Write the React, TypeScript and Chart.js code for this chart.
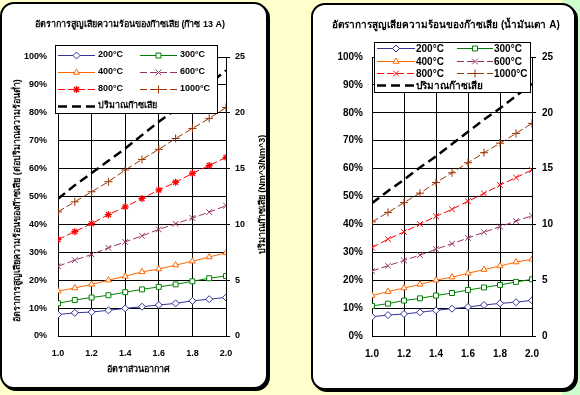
import React, { useEffect, useRef } from "react";
import { Chart, registerables } from "chart.js";
import { drawPoint } from "chart.js/helpers";

Chart.register(...registerables);

// ---------- data ----------
const airRatio = [1.0, 1.1, 1.2, 1.3, 1.4, 1.5, 1.6, 1.7, 1.8, 1.9, 2.0];
const seriesLabels = ["200°C", "300°C", "400°C", "600°C", "800°C", "1000°C"];
const gasLabel = "ปริมาณก๊าซเสีย";

const titleGas = "อัตราการสูญเสียความร้อนของก๊าซเสีย (ก๊าซ 13 A)";
const titleOil = "อัตราการสูญเสียความร้อนของก๊าซเสีย (น้ำมันเตา A)";
const yTitle = "อัตราการสูญเสียความร้อนของก๊าซเสีย (ต่อปริมาณความร้อนต่ำ)";
const y1Title = "ปริมาณก๊าซเสีย (Nm^3/Nm^3)";
const xTitle = "อัตราส่วนอากาศ";

// Gas 13A (percent)
const gas200 = [7.7, 8.3, 8.6, 9.2, 9.9, 10.5, 11.1, 11.7, 12.6, 13.2, 13.8];
const gas300 = [11.7, 12.9, 13.8, 14.6, 15.7, 16.7, 17.6, 18.5, 19.6, 20.7, 21.5];
const gas400 = [16.1, 17.2, 18.5, 20.0, 21.4, 23.0, 24.0, 25.4, 26.8, 28.3, 29.8];
const gas600 = [25.0, 27.2, 29.2, 31.6, 33.7, 35.9, 38.2, 40.2, 42.3, 44.4, 46.7];
const gas800 = [34.6, 37.4, 40.3, 43.5, 46.3, 49.3, 52.3, 55.1, 58.3, 61.1, 64.0];
const gas1000 = [44.5, 48.1, 51.7, 55.3, 59.5, 63.3, 66.9, 70.8, 74.4, 78.0, 81.9];
const gasVolume = [12.3, 13.5, 14.6, 15.7, 16.8, 18.0, 19.2, 20.3, 21.4, 22.6, 23.8];

// Heavy oil A (percent)
const oil200 = [6.9, 7.5, 7.9, 8.5, 9.2, 9.8, 10.4, 11.1, 11.7, 12.1, 12.8];
const oil300 = [10.8, 11.6, 12.7, 13.5, 14.5, 15.4, 16.5, 17.4, 18.3, 19.4, 20.3];
const oil400 = [14.5, 15.9, 17.2, 18.5, 20.0, 21.1, 22.5, 23.8, 25.1, 26.5, 27.5];
const oil600 = [23.3, 25.2, 27.1, 29.0, 31.1, 33.1, 35.1, 37.2, 39.2, 41.2, 43.1];
const oil800 = [31.7, 34.7, 37.3, 40.1, 42.9, 45.4, 48.3, 51.1, 54.1, 56.8, 59.5];
const oil1000 = [40.9, 44.3, 47.8, 51.2, 55.0, 58.5, 62.1, 65.7, 69.1, 72.6, 76.2];
const oilVolume = [11.9, 13.0, 14.0, 15.1, 16.1, 17.2, 18.3, 19.4, 20.4, 21.5, 22.6];

// ---------- styles ----------
const FAMILY = "Tahoma, 'Liberation Sans', Arial, 'DejaVu Sans', sans-serif";
const colors = ["#333399", "#008000", "#FF6600", "#993366", "#FF0000", "#993300"];
const dashed = [false, false, false, true, true, true];

type PanelCfg = {
  series: number[][];
  volume: number[];
  title: string;
  titleX: number;
  left: number;
  right: number;
  font: number;
  styles: string[];
  yPad: number;
  y1Pad: number;
  axisTitles: boolean;
  legend: {
    x: number; y: number; w: number; h: number;
    rows: number[];
    c1: [number, number, number];
    c2: [number, number, number];
    textDy: number;
  };
};

const TOP = 57;
const BOTTOM = 336;
const W = 290;
const H = 395;

function makeChart(canvas: HTMLCanvasElement, p: PanelCfg) {
  const pts = (arr: number[]) => airRatio.map((x, i) => ({ x, y: arr[i] }));
  const datasets: any[] = p.series.map((s, i) => {
    const style = p.styles[i];
    const isCross = style === "cross" || style === "crossRot";
    return {
      label: seriesLabels[i],
      data: pts(s),
      yAxisID: "y",
      borderColor: colors[i],
      borderWidth: 1,
      borderDash: dashed[i] ? [7, 3] : [],
      pointStyle: style,
      pointRadius: style === "star" ? 3.5 : isCross ? 4 : 3.5,
      pointBackgroundColor: "#FFFFFF",
      pointBorderColor: colors[i],
      pointBorderWidth: style === "star" ? 1.3 : 1,
      tension: 0,
    };
  });
  datasets.push({
    label: gasLabel,
    data: pts(p.volume),
    yAxisID: "y1",
    borderColor: "#000000",
    borderWidth: 2.5,
    borderDash: [9, 5],
    pointRadius: 0,
    tension: 0,
  });

  const tickFont = { family: FAMILY, size: p.font, weight: "bold" as const };

  const overlay = {
    id: "overlay",
    afterDraw(chart: any) {
      const ctx: CanvasRenderingContext2D = chart.ctx;
      ctx.save();
      ctx.fillStyle = "#000";
      ctx.font = `bold ${p.font}px ${FAMILY}`;
      ctx.textAlign = "center";
      ctx.textBaseline = "middle";
      ctx.fillText(p.title, p.titleX, 25);
      if (p.axisTitles) {
        const mid = (TOP + BOTTOM) / 2;
        ctx.fillText(xTitle, (p.left + p.right) / 2 - 4, 370);
        ctx.save();
        ctx.translate(18, mid + 4);
        ctx.rotate(-Math.PI / 2);
        ctx.fillText(yTitle, 0, 0);
        ctx.restore();
        ctx.save();
        ctx.translate(263, mid - 2);
        ctx.rotate(-Math.PI / 2);
        ctx.fillText(y1Title, 0, 0);
        ctx.restore();
      }
      // legend
      const L = p.legend;
      ctx.fillStyle = "#FFFFFF";
      ctx.fillRect(L.x, L.y, L.w, L.h);
      ctx.strokeStyle = "#000";
      ctx.lineWidth = 1;
      ctx.setLineDash([]);
      ctx.strokeRect(L.x + 0.5, L.y + 0.5, L.w, L.h);
      const items = [
        [0, 0, 0], [1, 0, 1],
        [2, 1, 0], [3, 1, 1],
        [4, 2, 0], [5, 2, 1],
        [6, 3, 0],
      ];
      ctx.textAlign = "left";
      for (const [ds, row, col] of items) {
        const c = col === 0 ? L.c1 : L.c2;
        const y = L.rows[row];
        const d = datasets[ds];
        ctx.save();
        ctx.strokeStyle = d.borderColor;
        ctx.lineWidth = d.borderWidth;
        ctx.setLineDash(d.borderDash || []);
        ctx.beginPath();
        ctx.moveTo(c[0], y + 0.5);
        ctx.lineTo(c[1], y + 0.5);
        ctx.stroke();
        ctx.setLineDash([]);
        if (d.pointRadius > 0) {
          ctx.fillStyle = "#FFFFFF";
          ctx.strokeStyle = d.pointBorderColor;
          ctx.lineWidth = d.pointBorderWidth;
          drawPoint(ctx, { pointStyle: d.pointStyle, radius: d.pointRadius, rotation: 0, borderWidth: d.pointBorderWidth } as any, (c[0] + c[1]) / 2, y + 0.5);
        }
        ctx.restore();
        ctx.fillStyle = "#000";
        ctx.textBaseline = "middle";
        ctx.fillText(d.label, c[2], y + L.textDy);
      }
      ctx.restore();
    },
  };

  return new Chart(canvas, {
    type: "line",
    data: { datasets },
    plugins: [overlay],
    options: {
      responsive: false,
      animation: false,
      devicePixelRatio: 1,
      layout: { padding: { top: TOP, left: 0, right: 0, bottom: 0 } },
      plugins: { legend: { display: false }, tooltip: { enabled: false }, title: { display: false } },
      scales: {
        x: {
          type: "linear",
          min: 1,
          max: 2,
          ticks: {
            stepSize: 0.2,
            callback: (v: any) => Number(v).toFixed(1),
            font: tickFont,
            color: "#000",
            padding: 12,
            maxRotation: 0,
          },
          grid: { color: "#000", drawTicks: false, lineWidth: 1 },
          border: { color: "#000" },
          afterFit: (s: any) => { s.height = H - BOTTOM; },
        },
        y: {
          position: "left",
          min: 0,
          max: 100,
          ticks: {
            stepSize: 10,
            callback: (v: any) => `${v}%`,
            font: tickFont,
            color: "#000",
            padding: p.yPad,
          },
          grid: { color: "#000", drawTicks: false, lineWidth: 1 },
          border: { color: "#000" },
          afterFit: (s: any) => { s.width = p.left; },
        },
        y1: {
          position: "right",
          min: 0,
          max: 25,
          ticks: {
            stepSize: 5,
            font: tickFont,
            color: "#000",
            padding: p.y1Pad,
          },
          grid: { drawOnChartArea: false, color: "#000", tickLength: 4 },
          border: { color: "#000" },
          afterFit: (s: any) => { s.width = W - p.right; },
        },
      },
    } as any,
  });
}

const leftPanel: PanelCfg = {
  series: [gas200, gas300, gas400, gas600, gas800, gas1000],
  volume: gasVolume,
  title: titleGas,
  titleX: 130,
  left: 58,
  right: 226,
  font: 9,
  styles: ["rectRot", "rect", "triangle", "crossRot", "star", "cross"],
  yPad: 11,
  y1Pad: 5,
  axisTitles: true,
  legend: {
    x: 55, y: 45, w: 162, h: 68,
    rows: [55, 72, 89, 106],
    c1: [58, 95, 98],
    c2: [140, 177, 180],
    textDy: 0,
  },
};

const rightPanel: PanelCfg = {
  series: [oil200, oil300, oil400, oil600, oil800, oil1000],
  volume: oilVolume,
  title: titleOil,
  titleX: 156,
  left: 82,
  right: 242,
  font: 10,
  styles: ["rectRot", "rect", "triangle", "crossRot", "crossRot", "cross"],
  yPad: 9,
  y1Pad: 6,
  axisTitles: false,
  legend: {
    x: 84, y: 42, w: 156, h: 50,
    rows: [48, 61, 73, 85],
    c1: [87, 125, 126],
    c2: [167, 203, 204],
    textDy: 1,
  },
};

function Panel({ cfg, x }: { cfg: PanelCfg; x: number }) {
  const ref = useRef<HTMLCanvasElement>(null);
  useEffect(() => {
    if (!ref.current) return;
    const chart = makeChart(ref.current, cfg);
    return () => chart.destroy();
  }, [cfg]);
  return (
    <canvas
      ref={ref}
      width={W}
      height={H}
      style={{ position: "absolute", left: x, top: 0, width: W, height: H }}
    />
  );
}

export default function App() {
  return (
    <div
      style={{
        position: "absolute",
        left: 0,
        top: 0,
        width: 580,
        height: 395,
        background: "#FFFFCC",
        overflow: "hidden",
      }}
    >
      <div style={{ position: "absolute", left: 562, top: 0, width: 18, height: 395, background: "#CCFFCC" }} />
      <div
        style={{
          position: "absolute",
          left: 0,
          top: 2,
          width: 268,
          height: 387,
          boxSizing: "border-box",
          border: "2px solid #000",
          borderRadius: 14,
          background: "#FFFFFF",
          boxShadow: "2px 2px 0 #000",
        }}
      />
      <div
        style={{
          position: "absolute",
          left: 311,
          top: 3,
          width: 265,
          height: 387,
          boxSizing: "border-box",
          border: "2px solid #000",
          borderRadius: 14,
          background: "#FFFFFF",
          boxShadow: "2px 2px 0 #000",
        }}
      />
      <Panel cfg={leftPanel} x={0} />
      <Panel cfg={rightPanel} x={290} />
    </div>
  );
}
